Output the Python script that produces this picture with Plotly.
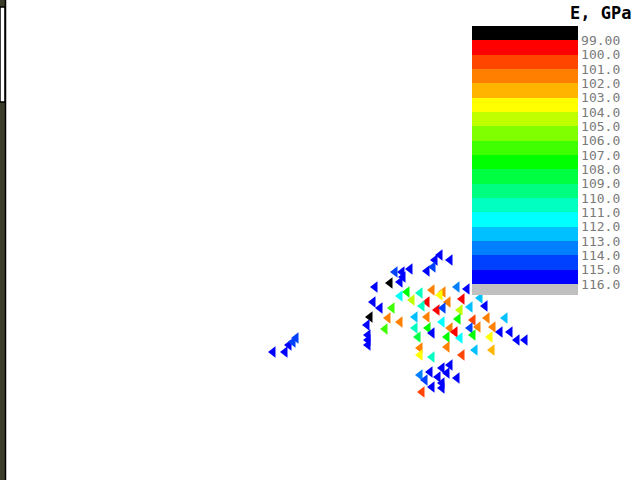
import plotly.graph_objects as go

# Point positions (horizontal / vertical coordinates) and E values (GPa)
px = [440, 435, 450, 427, 433, 410, 402, 395, 403, 400, 375, 390, 457, 467,
      407, 420, 432, 443, 462, 448, 480, 373, 400, 412, 427, 440, 422, 485, 470,
      380, 392, 437, 443, 460,
      370, 388, 400, 415, 427, 442, 458, 473, 487, 505, 367, 385, 415, 428, 450,
      455, 470, 478, 493, 510,
      368, 368, 368, 418, 432, 447, 460, 473, 490, 500, 517, 525, 420, 447, 475,
      492, 462, 420, 432,
      450, 442, 430, 420, 447, 438, 457, 425, 442, 432, 442, 422,
      273, 285, 289, 296, 293]
py = [255, 260, 260, 271, 267, 269, 272, 272, 277, 282, 287, 283, 287, 289,
      292, 293, 290, 292, 299, 302, 298, 302, 296, 300, 302, 295, 306, 306, 307,
      308, 308, 310, 308, 310,
      317, 318, 322, 317, 317, 322, 319, 320, 318, 318, 325, 329, 328, 328, 328,
      332, 328, 327, 327, 332,
      335, 340, 345, 337, 333, 337, 338, 335, 337, 332, 340, 340, 348, 347, 350,
      350, 355, 355, 357,
      365, 368, 372, 375, 373, 377, 378, 380, 383, 387, 388, 392,
      352, 352, 345, 338, 342]
E = [115.5, 115.5, 115.5, 115.5, 114.5, 115.5, 115.5, 114.5, 115.5, 115.5, 115.5, 98.5, 113.5, 115.5,
     107.5, 110.5, 101.5, 101.5, 99.5, 101.5, 112.5, 115.5, 111.5, 104.5, 99.5, 103.5, 110.5, 115.5, 112.5,
     115.5, 106.5, 99.5, 114.5, 104.5,
     98.5, 101.5, 101.5, 112.5, 101.5, 111.5, 107.5, 100.5, 101.5, 112.5, 115.5, 106.5, 110.5, 107.5, 101.5,
     99.5, 114.5, 101.5, 101.5, 115.5,
     115.5, 115.5, 115.5, 108.5, 115.5, 107.5, 111.5, 107.5, 103.5, 115.5, 115.5, 115.5, 101.5, 101.5, 112.5,
     102.5, 100.5, 103.5, 110.5,
     115.5, 115.5, 115.5, 113.5, 115.5, 115.5, 115.5, 114.5, 115.5, 115.5, 115.5, 100.5,
     115.5, 115.5, 115.5, 114.5, 114.5]

band_colors = ["#000000", "#ff0000", "#ff4500", "#ff8000", "#ffb400", "#ffff00",
               "#c0ff00", "#80ff00", "#40ff00", "#00ff00", "#00ff40", "#00ff80",
               "#00ffc0", "#00ffff", "#00c0ff", "#0080ff", "#0040ff", "#0000ff"]
gray_color = "#c0c0c0"
e_min, e_max = 98.0, 116.77
tick_values = list(range(99, 117))
tick_labels = ["99.00"] + [f"{v}.0" for v in range(100, 117)]

span = e_max - e_min
def frac(e):
    return (e_max - e) / span  # colour value is -E so 99 is at top

scale = []
scale.append([0.0, gray_color])
scale.append([frac(116.0), gray_color])
for k in range(17, -1, -1):
    lo_e = e_min + k
    c = band_colors[k]
    scale.append([frac(lo_e + 1), c])
    scale.append([frac(lo_e), c])
scale[-1][0] = 1.0

fig = go.Figure()
fig.add_trace(go.Scatter(
    x=px, y=py, mode="markers",
    marker=dict(symbol="triangle-left", size=10, line=dict(width=0),
                color=[-v for v in E], colorscale=scale,
                cmin=-e_max, cmax=-e_min, showscale=True,
                colorbar=dict(
                    x=472 / 641, xanchor="left", xpad=0,
                    y=1 - 160.5 / 480, yanchor="middle", ypad=0,
                    thickness=106, thicknessmode="pixels",
                    len=269, lenmode="pixels",
                    outlinewidth=0, ticks="", ticklabelposition="outside",
                    tickvals=[-v for v in tick_values], ticktext=tick_labels,
                    tickfont=dict(family="DejaVu Sans Mono", size=13, color="#7a7a7a"),
                )),
    hoverinfo="skip", showlegend=False))

fig.add_annotation(x=568, y=13, xref="x", yref="y", text="<b>E, GPa</b>",
                   showarrow=False, xanchor="left", yanchor="middle",
                   font=dict(family="DejaVu Sans Mono", size=17, color="#000000"))

# left edge decoration (window frame)
fig.add_shape(type="rect", xref="paper", yref="paper", x0=0, x1=6 / 641, y0=0, y1=1,
              fillcolor="#3c3c2a", line=dict(width=0), layer="below")
fig.add_shape(type="rect", xref="paper", yref="paper", x0=0, x1=5 / 641,
              y0=1 - 102 / 480, y1=1 - 7 / 480,
              fillcolor="#ffffff", line=dict(color="#000000", width=1.5), layer="below")
fig.add_shape(type="line", xref="paper", yref="paper", x0=5.5 / 641, x1=5.5 / 641, y0=0, y1=1,
              line=dict(color="#000000", width=1.5), layer="below")

fig.update_layout(
    width=641, height=480,
    margin=dict(l=0, r=0, t=0, b=0, pad=0, autoexpand=False),
    paper_bgcolor="#ffffff", plot_bgcolor="#ffffff",
    xaxis=dict(range=[0, 641], visible=False, fixedrange=True),
    yaxis=dict(range=[480, 0], visible=False, fixedrange=True),
)
fig.write_html("out.html", config={"displayModeBar": False},
               post_script="document.body.style.margin='0';document.body.style.overflow='hidden';")
